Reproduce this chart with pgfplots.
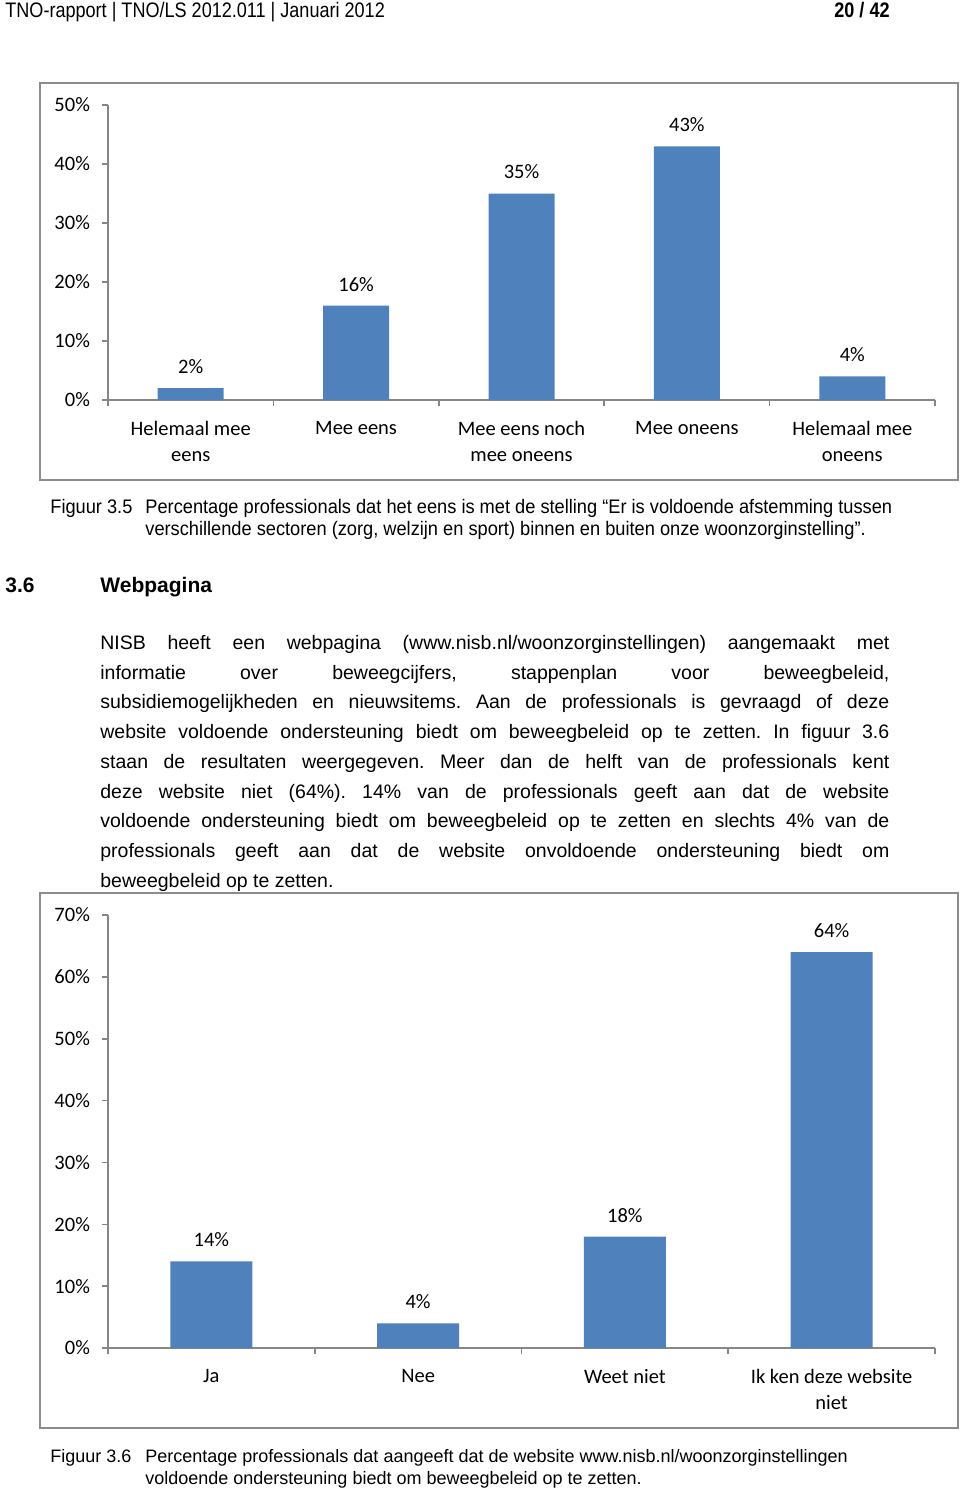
\documentclass[border=0pt]{standalone}
\usepackage{pgfplots}
\pgfplotsset{compat=1.18}
\usepackage{fontspec}
\setmainfont{Liberation Sans}
\newfontfamily\chartfont{Carlito}
\newfontfamily\narrowfont[FakeStretch=0.86]{Liberation Sans}
\newfontfamily\capfont[FakeStretch=0.93]{Liberation Sans}
\definecolor{barblue}{HTML}{4F81BD}
\definecolor{axisgray}{HTML}{868686}
\definecolor{framegray}{HTML}{8C8C8C}
\newcommand{\cf}{\chartfont\fontsize{10.25}{13}\selectfont}
\newcommand{\bodyf}{\fontsize{9.75}{14.9}\selectfont}
\newcommand{\bl}[1]{\makebox[394.5pt][s]{#1}}
\frenchspacing
\pgfplotsset{
  pagebar/.style={
    ybar, scale only axis, width=413.5pt, clip=false,
    anchor=south west,
    axis lines=left,
    axis line style={draw=axisgray, line width=0.8pt, -},
    tick style={draw=axisgray, line width=0.8pt},
    tick align=outside, major tick length=3pt,
    ymin=0,
    /pgf/number format/assume math mode=true,
    yticklabel={\pgfmathprintnumber{\tick}\%},
    tick label style={font=\cf},
    yticklabel style={xshift=-2.5pt},
    xticklabels={},
    extra x tick style={major tick length=0pt, tick style={draw=none},
      xticklabel style={align=center, anchor=north, yshift=-7pt}},
    nodes near coords={\pgfmathprintnumber{\pgfplotspointmeta}\%},
    nodes near coords style={font=\cf, anchor=south, inner sep=0pt, yshift=7pt, text=black},
  }
}
\begin{document}
\begin{tikzpicture}
\begin{scope}[x=0.5pt,y=-0.5pt]
\path[use as bounding box] (0,0) rectangle (960,1490);
% header
\node[anchor=base west, inner sep=0] at (5,17) {\narrowfont\fontsize{10.5}{12}\selectfont TNO-rapport | TNO/LS 2012.011 | Januari 2012};
\node[anchor=base east, inner sep=0] at (890,17) {\narrowfont\bfseries\fontsize{10.5}{12}\selectfont 20 / 42};
% frames
\draw[framegray, line width=1pt] (40,83) rectangle (958,480);
\draw[framegray, line width=1pt] (40,893) rectangle (958,1428);
% caption 3.5
\node[anchor=base west, inner sep=0] at (50,513) {\capfont\fontsize{9.8}{11}\selectfont Figuur 3.5};
\node[anchor=base west, inner sep=0] at (145,513) {\capfont\fontsize{9.8}{11}\selectfont Percentage professionals dat het eens is met de stelling “Er is voldoende afstemming tussen};
\node[anchor=base west, inner sep=0] at (145,535) {\capfont\fontsize{9.8}{11}\selectfont verschillende sectoren (zorg, welzijn en sport) binnen en buiten onze woonzorginstelling”.};
% heading
\node[anchor=base west, inner sep=0] at (5,592) {\bfseries\fontsize{10.5}{12}\selectfont 3.6};
\node[anchor=base west, inner sep=0] at (100,592) {\bfseries\fontsize{10.5}{12}\selectfont Webpagina};
% body
\node[anchor=base west, inner sep=0] at (100,649) {\bodyf\bl{NISB heeft een webpagina (www.nisb.nl/woonzorginstellingen) aangemaakt met}};
\node[anchor=base west, inner sep=0] at (100,679) {\bodyf\bl{informatie over beweegcijfers, stappenplan voor beweegbeleid,}};
\node[anchor=base west, inner sep=0] at (100,708) {\bodyf\bl{subsidiemogelijkheden en nieuwsitems. Aan de professionals is gevraagd of deze}};
\node[anchor=base west, inner sep=0] at (100,738) {\bodyf\bl{website voldoende ondersteuning biedt om beweegbeleid op te zetten. In figuur 3.6}};
\node[anchor=base west, inner sep=0] at (100,768) {\bodyf\bl{staan de resultaten weergegeven. Meer dan de helft van de professionals kent}};
\node[anchor=base west, inner sep=0] at (100,798) {\bodyf\bl{deze website niet (64\%). 14\% van de professionals geeft aan dat de website}};
\node[anchor=base west, inner sep=0] at (100,827) {\bodyf\bl{voldoende ondersteuning biedt om beweegbeleid op te zetten en slechts 4\% van de}};
\node[anchor=base west, inner sep=0] at (100,857) {\bodyf\bl{professionals geeft aan dat de website onvoldoende ondersteuning biedt om}};
\node[anchor=base west, inner sep=0] at (100,887) {\bodyf beweegbeleid op te zetten.};
% caption 3.6
\node[anchor=base west, inner sep=0] at (50,1462) {\fontsize{9}{10}\selectfont Figuur 3.6};
\node[anchor=base west, inner sep=0] at (145,1462) {\fontsize{9}{10}\selectfont Percentage professionals dat aangeeft dat de website www.nisb.nl/woonzorginstellingen};
\node[anchor=base west, inner sep=0] at (145,1484) {\fontsize{9}{10}\selectfont voldoende ondersteuning biedt om beweegbeleid op te zetten.};
\end{scope}
% chart 1
\begin{axis}[pagebar, at={(54pt,-200pt)}, height=147.5pt, bar width=33pt,
  xmin=-0.5, xmax=4.5, ymax=50, ytick={0,10,...,50},
  xtick={-0.5,0.5,...,4.5},
  extra x ticks={0,1,2,3,4},
  extra x tick labels={{Helemaal mee\\eens},{Mee eens},{Mee eens noch\\mee oneens},{Mee oneens},{Helemaal mee\\oneens}}]
\addplot[fill=barblue, draw=none] coordinates {(0,2) (1,16) (2,35) (3,43) (4,4)};
\end{axis}
% chart 2
\begin{axis}[pagebar, at={(54pt,-674pt)}, height=216.5pt, bar width=41pt,
  xmin=-0.5, xmax=3.5, ymax=70, ytick={0,10,...,70},
  xtick={-0.5,0.5,...,3.5},
  extra x ticks={0,1,2,3},
  extra x tick labels={{Ja},{Nee},{Weet niet},{Ik ken deze website\\niet}}]
\addplot[fill=barblue, draw=none] coordinates {(0,14) (1,4) (2,18) (3,64)};
\end{axis}
\end{tikzpicture}
\end{document}
